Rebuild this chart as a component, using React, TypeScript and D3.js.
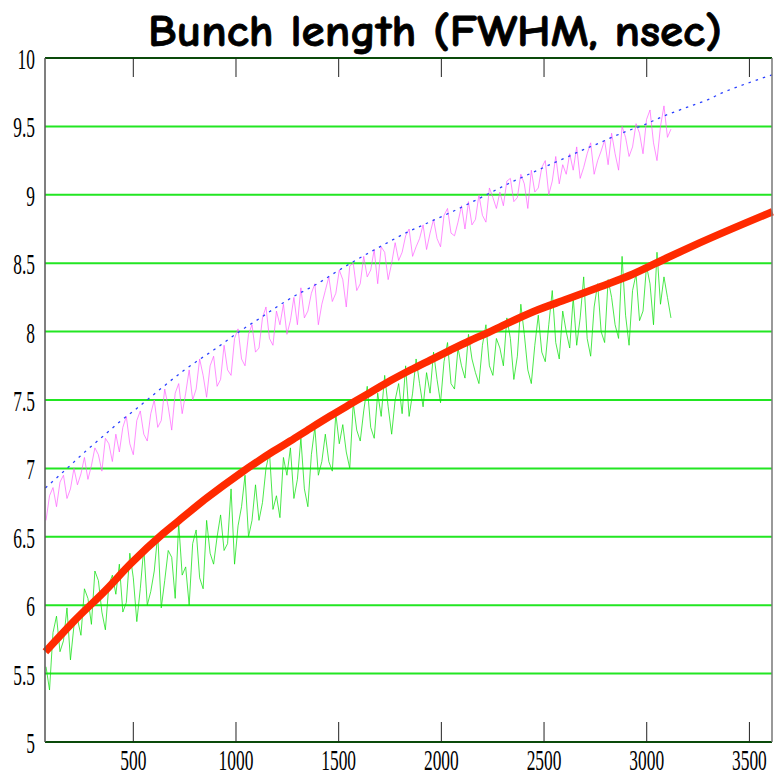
import React from "react";
import * as d3 from "d3";

const TITLE = "Bunch length (FWHM, nsec)";
const X_TICKS = [500, 1000, 1500, 2000, 2500, 3000, 3500];
const Y_TICKS = [5, 5.5, 6, 6.5, 7, 7.5, 8, 8.5, 9, 9.5, 10];

// thick red fit curve
const RED_X = [72, 209, 372, 485, 646, 719, 859, 1021, 1182, 1264, 1362, 1459, 1557, 1654, 1751, 1849, 1946, 2044, 2141, 2238, 2287, 2447, 2613, 2774, 2934, 3100, 3260, 3612];
const RED_Y = [5.66, 5.88, 6.12, 6.3, 6.525, 6.615, 6.785, 6.964, 7.125, 7.2, 7.293, 7.383, 7.47, 7.555, 7.64, 7.719, 7.792, 7.865, 7.935, 8.0, 8.035, 8.145, 8.238, 8.328, 8.421, 8.54, 8.65, 8.876];

// blue dotted curve
const BLUE_X = [72, 177, 275, 372, 437, 518, 583, 648, 745, 818, 891, 956, 1021, 1118, 1200, 1279, 1394, 1492, 1571, 1717, 1832, 1946, 2058, 2173, 2278, 2352, 2433, 2506, 2611, 2692, 2765, 2838, 2920, 2993, 3066, 3148, 3226, 3294, 3367, 3440, 3518, 3610];
const BLUE_Y = [6.857, 7.0, 7.135, 7.26, 7.345, 7.44, 7.52, 7.6, 7.715, 7.792, 7.865, 7.935, 8.005, 8.099, 8.182, 8.255, 8.348, 8.44, 8.511, 8.633, 8.725, 8.803, 8.88, 8.965, 9.045, 9.1, 9.155, 9.205, 9.275, 9.33, 9.376, 9.425, 9.475, 9.515, 9.565, 9.613, 9.656, 9.693, 9.745, 9.788, 9.83, 9.876];

// noisy measured series, sampled every 17 turns from 75
const NOISE_X0 = 75;
const NOISE_DX = 17;

const GREEN_Y = [
  5.55, 5.38, 5.80, 5.92, 5.66, 5.74, 5.98, 5.60, 5.85, 5.90,
  5.78, 6.12, 6.05, 5.86, 6.25, 6.18, 5.95, 5.82, 6.15, 6.22,
  6.08, 6.30, 5.95, 6.02, 6.38, 6.20, 5.88, 6.12, 6.42, 6.00,
  6.10, 6.25, 6.52, 5.98, 6.18, 6.40, 6.35, 6.05, 6.60, 6.22,
  6.28, 6.00, 6.45, 6.55, 6.20, 6.12, 6.62, 6.38, 6.30, 6.50,
  6.66, 6.40, 6.45, 6.85, 6.30, 6.58, 6.72, 6.95, 6.50, 6.62,
  6.88, 6.62, 6.75, 7.00, 7.12, 6.70, 6.80, 6.64, 7.08, 6.95,
  7.15, 6.78, 6.92, 7.22, 6.85, 6.72, 7.10, 7.30, 6.95, 7.05,
  7.25, 7.05, 6.98, 7.40, 7.18, 7.32, 7.12, 7.00, 7.48, 7.28,
  7.20, 7.42, 7.60, 7.30, 7.22, 7.55, 7.38, 7.68, 7.45, 7.25,
  7.50, 7.62, 7.40, 7.75, 7.38, 7.55, 7.80, 7.62, 7.45, 7.70,
  7.55, 7.85, 7.65, 7.48, 7.78, 7.92, 7.62, 7.58, 7.88, 7.75,
  7.66, 7.98, 7.80, 7.70, 7.62, 7.90, 8.05, 7.75, 7.68, 7.95,
  7.88, 7.75, 8.10, 7.95, 7.65, 7.82, 8.20, 7.98, 7.72, 7.62,
  7.90, 8.12, 7.85, 7.78, 8.05, 8.30, 7.92, 7.80, 8.15, 8.00,
  7.88, 8.25, 7.90, 8.10, 8.40, 7.95, 7.82, 8.18, 8.35, 8.00,
  7.92, 8.38, 8.25, 8.05, 7.95, 8.55, 8.12, 7.90, 8.30, 8.42,
  8.08, 8.15, 8.48, 8.35, 8.05, 8.58, 8.20, 8.40, 8.25, 8.10,
];

const PINK_Y = [
  6.62, 6.80, 6.86, 6.72, 6.90, 6.95, 6.78, 6.85, 7.00, 6.88,
  6.96, 7.08, 6.92, 7.02, 7.15, 7.10, 6.98, 7.22, 7.18, 7.05,
  7.25, 7.12, 7.30, 7.38, 7.18, 7.10, 7.35, 7.42, 7.25, 7.20,
  7.40, 7.50, 7.30, 7.35, 7.58, 7.45, 7.28, 7.55, 7.62, 7.40,
  7.55, 7.72, 7.50, 7.58, 7.80, 7.68, 7.52, 7.75, 7.82, 7.60,
  7.65, 7.90, 7.72, 7.68, 7.95, 8.02, 7.80, 7.75, 7.98, 8.05,
  7.85, 7.88, 8.10, 8.18, 7.95, 7.90, 8.15, 8.05, 8.20, 7.98,
  8.08, 8.25, 8.05, 8.32, 8.10, 8.15, 8.28, 8.35, 8.05, 8.20,
  8.30, 8.40, 8.22, 8.28, 8.45, 8.38, 8.18, 8.48, 8.50, 8.30,
  8.35, 8.55, 8.40, 8.45, 8.60, 8.35, 8.62, 8.58, 8.38, 8.50,
  8.65, 8.52, 8.58, 8.70, 8.75, 8.55, 8.62, 8.68, 8.78, 8.60,
  8.72, 8.82, 8.68, 8.62, 8.85, 8.90, 8.72, 8.70, 8.80, 8.92,
  8.75, 8.95, 8.78, 8.82, 9.00, 8.85, 8.80, 9.05, 8.98, 8.90,
  9.02, 8.92, 9.10, 9.12, 8.95, 8.98, 9.15, 9.08, 8.90, 9.18,
  9.02, 9.05, 9.20, 9.25, 9.00, 9.10, 9.28, 9.08, 9.22, 9.15,
  9.30, 9.18, 9.35, 9.12, 9.20, 9.30, 9.38, 9.15, 9.25, 9.32,
  9.40, 9.22, 9.45, 9.30, 9.18, 9.50, 9.42, 9.28, 9.35, 9.52,
  9.45, 9.30, 9.55, 9.62, 9.38, 9.25, 9.50, 9.65, 9.42, 9.48,
];

const W = 774;
const H = 775;
const L = 45, R = 772, T = 58, B = 742;

export default function App() {
  const x = d3.scaleLinear().domain([70, 3610]).range([L, R]);
  const y = d3.scaleLinear().domain([5, 10]).range([B, T]);

  const line = d3
    .line<[number, number]>()
    .x((d) => x(d[0]))
    .y((d) => y(d[1]));
  const smooth = d3
    .line<[number, number]>()
    .x((d) => x(d[0]))
    .y((d) => y(d[1]))
    .curve(d3.curveMonotoneX);

  const red = RED_X.map((v, i) => [v, RED_Y[i]] as [number, number]);
  const blue = BLUE_X.map((v, i) => [v, BLUE_Y[i]] as [number, number]);
  const green = GREEN_Y.map((v, i) => [NOISE_X0 + i * NOISE_DX, v] as [number, number]);
  const pink = PINK_Y.map((v, i) => [NOISE_X0 + i * NOISE_DX, v] as [number, number]);

  const tickFont = "'Liberation Serif', 'Times New Roman', serif";

  return (
    <svg
      width={W}
      height={H}
      style={{ position: "absolute", left: 0, top: 0, background: "#fff" }}
    >
      <rect x={0} y={0} width={W} height={H} fill="#fff" />
      <text
        x={435}
        y={46}
        textAnchor="middle"
        textLength={574}
        lengthAdjust="spacingAndGlyphs"
        stroke="#000"
        strokeWidth={0.8}
        style={{
          fontFamily: "'Comic Sans MS', 'Comic Neue', 'DejaVu Sans', sans-serif",
          fontWeight: 700,
          fontSize: 45,
        }}
        fill="#000"
      >
        {TITLE}
      </text>

      {/* gridlines */}
      {Y_TICKS.filter((t) => t > 5 && t < 10).map((t) => (
        <line key={"g" + t} x1={L} x2={R} y1={y(t)} y2={y(t)} stroke="#22e622" strokeWidth={2} />
      ))}

      {/* noisy series */}
      <path d={line(pink) || ""} fill="none" stroke="#ff55ff" strokeWidth={1} strokeOpacity={0.65} />
      <path
        d={smooth(blue) || ""}
        fill="none"
        stroke="#2a40ff"
        strokeWidth={1.3}
        strokeDasharray="2.5 5"
      />
      <path d={line(green) || ""} fill="none" stroke="#10e010" strokeWidth={1} strokeOpacity={0.75} />
      <path d={smooth(red) || ""} fill="none" stroke="#ff2a00" strokeWidth={7.5} strokeLinejoin="round" />

      {/* frame */}
      <line x1={L} x2={R} y1={T} y2={T} stroke="#0a4a0a" strokeWidth={2} />
      <line x1={L} x2={R} y1={B} y2={B} stroke="#0a4a0a" strokeWidth={2} />
      <line x1={L} x2={L} y1={T} y2={B} stroke="#555" strokeWidth={1.5} />
      <line x1={R} x2={R} y1={T} y2={B} stroke="#777" strokeWidth={1.5} />

      {/* x ticks */}
      {X_TICKS.map((t) => (
        <g key={"xt" + t}>
          <line x1={x(t)} x2={x(t)} y1={B} y2={B - 20} stroke="#222" strokeWidth={1} />
          <line x1={x(t)} x2={x(t)} y1={T} y2={T + 19} stroke="#222" strokeWidth={1} />
          <text
            transform={`translate(${x(t)},770) scale(0.6,1)`}
            textAnchor="middle"
            style={{ fontFamily: tickFont, fontSize: 29 }}
            fill="#000"
          >
            {t}
          </text>
        </g>
      ))}

      {/* y labels */}
      {Y_TICKS.map((t) => (
        <text
          key={"yt" + t}
          transform={`translate(35,${y(t) + 11}) scale(0.6,1)`}
          textAnchor="end"
          style={{ fontFamily: tickFont, fontSize: 29 }}
          fill="#000"
        >
          {t}
        </text>
      ))}
    </svg>
  );
}
